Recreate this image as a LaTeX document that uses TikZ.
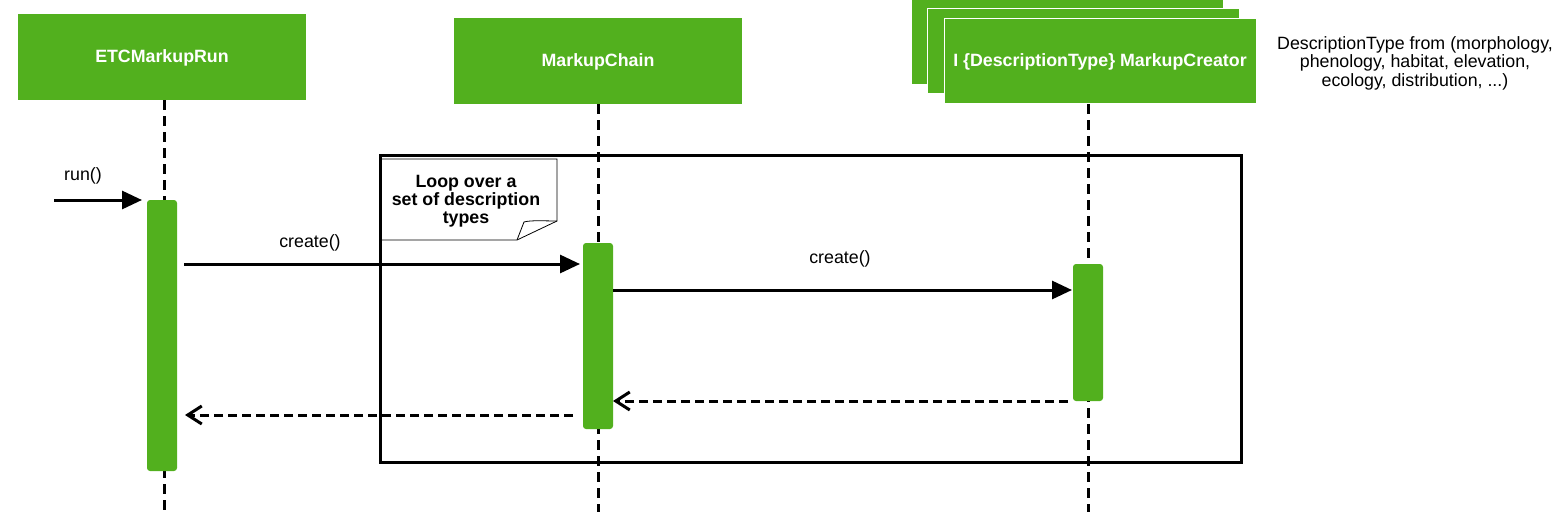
\documentclass[tikz,border=0pt]{standalone}
\usepackage{fontspec}
\setmainfont{Liberation Sans}
\usetikzlibrary{arrows.meta}
\definecolor{umlgreen}{RGB}{82,176,30}
\begin{document}
\begin{tikzpicture}[x=1pt,y=-1pt,
  header/.style={fill=umlgreen, draw=none, minimum width=288pt, minimum height=86pt, inner sep=0pt},
  stackbox/.style={fill=umlgreen, draw=white, line width=0.8pt, minimum width=312pt, minimum height=85pt, inner sep=0pt},
  headtext/.style={text=white, font=\bfseries\fontsize{17.8}{20}\selectfont, inner sep=0pt},
  actbar/.style={fill=umlgreen, draw=none, rounded corners=3pt, minimum width=30pt, inner sep=0pt},
  lifeline/.style={line width=3pt, dash pattern=on 10pt off 6pt},
  msg/.style={line width=3pt, -{Triangle[length=20pt,width=18pt]}},
  ret/.style={line width=3pt, dash pattern=on 9pt off 5pt, -{Straight Barb[length=14pt,width=18pt]}},
  lbl/.style={font=\fontsize{17.8}{18.5}\selectfont, inner sep=0pt},
  notetext/.style={font=\bfseries\fontsize{17.8}{18}\selectfont, align=center, inner sep=0pt},
]
\useasboundingbox (0,0) rectangle (1561,517);

% headers
\node[header] (hA) at (162,57) {};
\node[headtext] (tA) at (162,58) {ETCMarkupRun};
\node[header] (hB) at (598,60.5) {};
\node[headtext] (tB) at (598,61.5) {MarkupChain};
\node[stackbox] (hC3) at (1067,41.5) {};
\node[stackbox] (hC2) at (1083,51) {};
\node[stackbox] (hC) at (1100,60.5) {};
\node[headtext] (tC) at (1100,62) {I \{DescriptionType\} MarkupCreator};

% side comment
\node[lbl, align=center] (cmt) at (1415,63) {DescriptionType from (morphology,\\phenology, habitat, elevation,\\ecology, distribution, ...)};

% note
\draw[fill=white, line width=0.8pt] (381,159) -- (557,159) -- (557,221) -- (517,240) -- (381,240) -- cycle;
\draw[line width=0.8pt] (517,240) -- (524,222) .. controls (531,220) and (545,221) .. (557,221);
\node[notetext] (note) at (466,201.5) {Loop over a\\set of description\\types};

% loop frame
\draw[line width=3pt] (380,155) rectangle (1241,462);

% lifelines
\coordinate (lA0) at (164,100); \coordinate (lA1) at (164,512);
\coordinate (lB0) at (598,104); \coordinate (lB1) at (598,512);
\coordinate (lC0) at (1088,104); \coordinate (lC1) at (1088,512);
\draw[lifeline] (lA0) -- (lA1);
\draw[lifeline] (lB0) -- (lB1);
\draw[lifeline] (lC0) -- (lC1);

% activation bars
\node[actbar, minimum height=271pt] (barA) at (162,335.5) {};
\node[actbar, minimum height=186pt] (barB) at (598,336) {};
\node[actbar, minimum height=137pt] (barC) at (1088,332.5) {};

% message endpoints
\coordinate (runS) at (54,200);  \coordinate (runE) at (142,200);
\coordinate (c1S) at (184,264);  \coordinate (c1E) at (580,264);
\coordinate (c2S) at (613,290);  \coordinate (c2E) at (1072,290);
\coordinate (r1S) at (1068,401); \coordinate (r1E) at (613,401);
\coordinate (r2S) at (573,415);  \coordinate (r2E) at (185,415);

\draw[msg] (runS) -- (runE);
\draw[msg] (c1S) -- (c1E);
\draw[msg] (c2S) -- (c2E);
\draw[ret] (r1S) -- (r1E);
\draw[ret] (r2S) -- (r2E);

\node[lbl] (lrun) at (83,176) {run()};
\node[lbl] (lc1) at (310,243) {create()};
\node[lbl] (lc2) at (840,259) {create()};
\end{tikzpicture}
\end{document}
